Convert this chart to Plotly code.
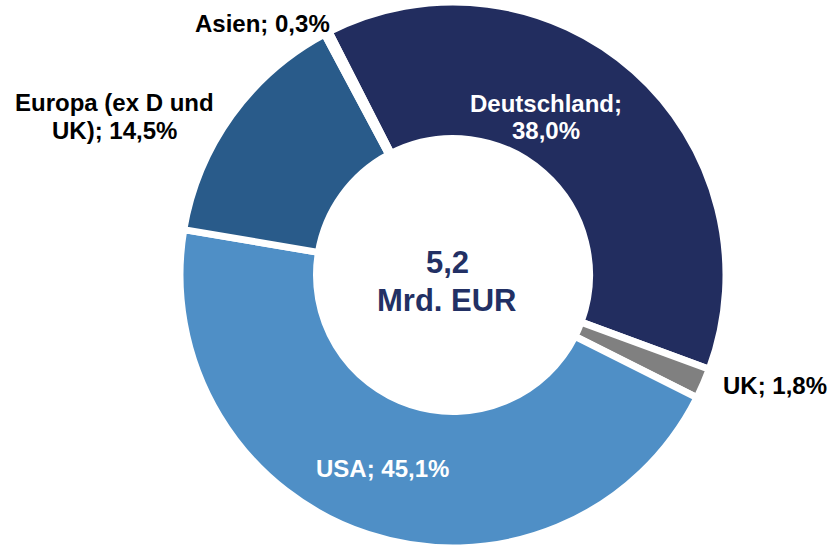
import plotly.graph_objects as go

# Regional split of the 5.2 bn EUR total
regions = ["Deutschland", "UK", "USA", "Europa (ex D und UK)", "Asien"]
shares = [38.0, 1.8, 45.1, 14.5, 0.3]
colors = ["#222D5F", "#808080", "#4F8FC6", "#295B8A", "#BFBFBF"]

total_label = ["5,2", "Mrd. EUR"]

W, H = 831, 548
cx, cy, r = 453, 275, 273

fig = go.Figure(go.Pie(
    labels=regions,
    values=shares,
    sort=False,
    direction="clockwise",
    rotation=-27,
    hole=0.5,
    textinfo="none",
    hoverinfo="label+percent",
    marker=dict(colors=colors, line=dict(color="white", width=7)),
    domain=dict(
        x=[(cx - r) / W, (cx + r) / W],
        y=[max(0, (H - cy - r) / H), min(1, (H - cy + r) / H)],
    ),
    showlegend=False,
))

font = "Liberation Sans, Arial, sans-serif"

def label(lines, x, y, color="black", size=24, step=28):
    # one annotation per line so the line spacing can match the original
    for i, line in enumerate(lines):
        fig.add_annotation(
            text=line, x=x / W, y=1 - (y + i * step) / H,
            xref="paper", yref="paper", xanchor="center", yanchor="middle",
            showarrow=False,
            font=dict(family=font, size=size, color=color, weight="bold"),
        )

label(["Asien; 0,3%"], 262, 24)
label(["Europa (ex D und", "UK); 14,5%"], 114, 102)
label(["Deutschland;", "38,0%"], 546, 103, color="white")
label(["UK; 1,8%"], 775, 385)
label(["USA; 45,1%"], 382, 468, color="white")
label(total_label, 447, 262, color="#223064", size=31, step=38)

fig.update_layout(
    width=W, height=H,
    margin=dict(l=0, r=0, t=0, b=0),
    paper_bgcolor="white",
    plot_bgcolor="white",
)

# drop the default page margin so the figure sits at the window corner
fig.write_html(
    "out.html",
    config={"displayModeBar": False},
    post_script="document.body.style.margin='0';",
)
